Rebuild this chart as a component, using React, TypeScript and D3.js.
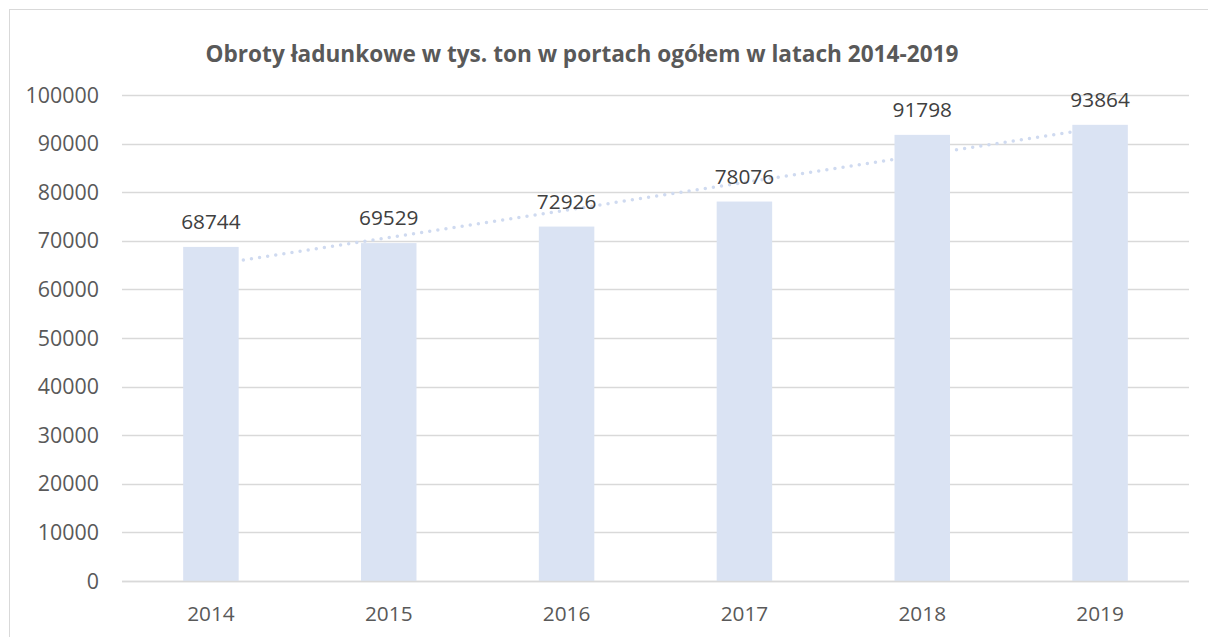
import * as d3 from "d3";
import { useEffect, useRef } from "react";

const years = ["2014", "2015", "2016", "2017", "2018", "2019"];
const values = [68744, 69529, 72926, 78076, 91798, 93864];
const yTicks = [0, 10000, 20000, 30000, 40000, 50000, 60000, 70000, 80000, 90000, 100000];
const title = "Obroty ładunkowe w tys. ton w portach ogółem w latach 2014-2019";

const W = 1208;
const H = 637;

const App = () => {
  const ref = useRef<SVGSVGElement | null>(null);

  useEffect(() => {
    const svg = d3.select(ref.current);
    svg.selectAll("*").remove();

    const margin = { top: 95, right: 19, bottom: 56, left: 122 };
    const x = d3
      .scaleBand()
      .domain(years)
      .range([margin.left, W - margin.right])
      .paddingInner(0.688)
      .paddingOuter(0.344);
    const y = d3.scaleLinear().domain([0, 100000]).range([H - margin.bottom, margin.top]);

    // chart frame
    svg
      .append("rect")
      .attr("x", 9.5)
      .attr("y", 9.5)
      .attr("width", 1400)
      .attr("height", 800)
      .attr("fill", "#fff")
      .attr("stroke", "#d9d9d9");

    svg
      .append("text")
      .attr("x", 582)
      .attr("y", 62)
      .attr("text-anchor", "middle")
      .attr("font-family", "'Open Sans', sans-serif")
      .attr("font-weight", "bold")
      .attr("font-size", 22.6)
      .attr("fill", "#595959")
      .text(title);

    // gridlines
    svg
      .append("g")
      .selectAll("line")
      .data(yTicks)
      .enter()
      .append("line")
      .attr("x1", margin.left)
      .attr("x2", W - margin.right)
      .attr("y1", (d) => Math.round(y(d)) + 0.5)
      .attr("y2", (d) => Math.round(y(d)) + 0.5)
      .attr("stroke", "#d9d9d9")
      .attr("stroke-width", 1.3);

    svg
      .append("g")
      .selectAll("text")
      .data(yTicks)
      .enter()
      .append("text")
      .attr("x", 99)
      .attr("y", (d) => y(d) + 7.6)
      .attr("text-anchor", "end")
      .attr("font-family", "'Open Sans', sans-serif")
      .attr("font-size", 21.4)
      .attr("fill", "#595959")
      .text((d) => String(d));

    // linear trendline (least squares, like Excel)
    const xs = values.map((_, i) => i + 1);
    const mx = d3.mean(xs)!;
    const my = d3.mean(values)!;
    const slope =
      d3.sum(xs, (xi, i) => (xi - mx) * (values[i] - my)) / d3.sum(xs, (xi) => (xi - mx) ** 2);
    const icpt = my - slope * mx;
    const cx = (yr: string) => x(yr)! + x.bandwidth() / 2;
    svg
      .append("path")
      .datum(years)
      .attr(
        "d",
        d3
          .line<string>()
          .x((d) => cx(d))
          .y((d, i) => y(icpt + slope * (i + 1)))
      )
      .attr("fill", "none")
      .attr("stroke", "#cfdaf0")
      .attr("stroke-width", 3.5)
      .attr("stroke-linecap", "round")
      .attr("stroke-dasharray", "0 8.2");

    // bars
    svg
      .append("g")
      .selectAll("rect")
      .data(values)
      .enter()
      .append("rect")
      .attr("x", (_, i) => x(years[i])!)
      .attr("y", (d) => y(d))
      .attr("width", x.bandwidth())
      .attr("height", (d) => y(0) - y(d))
      .attr("fill", "#dae3f3");

    // axis line
    svg
      .append("line")
      .attr("x1", margin.left)
      .attr("x2", W - margin.right)
      .attr("y1", Math.round(y(0)) + 0.5)
      .attr("y2", Math.round(y(0)) + 0.5)
      .attr("stroke", "#d9d9d9")
      .attr("stroke-width", 1.3);

    // data labels
    svg
      .append("g")
      .selectAll("text")
      .data(values)
      .enter()
      .append("text")
      .attr("x", (_, i) => cx(years[i]))
      .attr("y", (d) => y(d) - 17.7)
      .attr("text-anchor", "middle")
      .attr("font-family", "'Open Sans', sans-serif")
      .attr("font-size", 20.8)
      .attr("fill", "#404040")
      .text((d) => String(d));

    // x labels
    svg
      .append("g")
      .selectAll("text")
      .data(years)
      .enter()
      .append("text")
      .attr("x", (d) => cx(d))
      .attr("y", y(0) + 39.5)
      .attr("text-anchor", "middle")
      .attr("font-family", "'Open Sans', sans-serif")
      .attr("font-size", 20.8)
      .attr("fill", "#595959")
      .text((d) => d);
  }, []);

  return (
    <svg
      ref={ref}
      width={W}
      height={H}
      style={{ position: "absolute", left: 0, top: 0, background: "#fff" }}
    />
  );
};

export default App;
